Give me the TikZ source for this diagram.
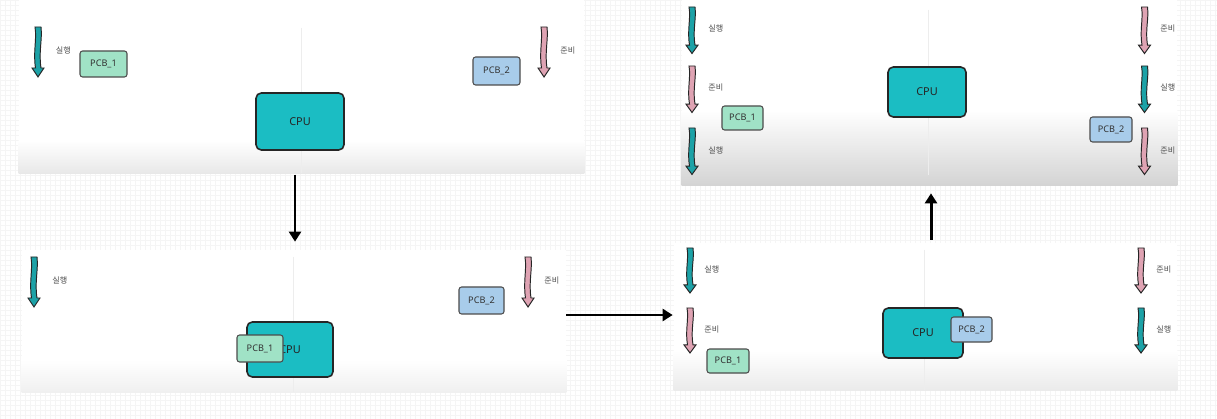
\documentclass[tikz,border=0pt]{standalone}
\usepackage{fontspec}
\setmainfont{Noto Sans}
\newfontfamily\kr{Noto Sans CJK KR}
\usetikzlibrary{arrows.meta}
\definecolor{cpucol}{HTML}{1BBDC3}
\definecolor{pcbone}{HTML}{A0E2C6}
\definecolor{pcbtwo}{HTML}{A8CCEA}
\definecolor{runcol}{HTML}{1CA2A7}
\definecolor{readycol}{HTML}{DFA3B3}

\tikzset{
  panel/.style={fill=white, draw=none, inner sep=0pt},
  cpubox/.style={draw=black!85, line width=0.9pt, fill=cpucol, rounded corners=3pt,
    inner sep=0pt, font=\fontsize{6.2}{7}\selectfont\bfseries, text=black!85},
  pcbbox/.style={draw=black!70, line width=0.6pt, fill=#1, rounded corners=1.5pt,
    inner sep=0pt, font=\fontsize{5.2}{6}\selectfont, text=black!80},
  statelabel/.style={anchor=west, inner sep=0pt, font=\kr\fontsize{4.6}{5}\selectfont, text=black!70},
  midline/.style={draw=black!7, line width=0.4pt},
  bigarrow/.style={-{Triangle[length=0.2cm,width=0.24cm]}, line width=1.7pt, black},
  pics/statearrow/.style={code={
    \filldraw[draw=black!85, fill=#1, line width=0.55pt]
      (-0.06,0) .. controls (-0.02,-0.25) and (-0.1,-0.5) .. (-0.05,-0.82)
      -- (-0.12,-0.82) -- (0,-1) -- (0.12,-0.82) -- (0.06,-0.82)
      .. controls (0.01,-0.5) and (0.09,-0.25) .. (0.06,0) -- cycle;
  }}
}

\begin{document}
\begin{tikzpicture}
\useasboundingbox (0,0) rectangle (24.34,-8.38);
\fill[white] (0,0) rectangle (24.34,-8.38);
\draw[black!4, line width=0.2pt, step=0.1] (0,-8.38) grid (24.34,0);

% panels
\node[panel, minimum width=11.3cm, minimum height=3.46cm] (p1) at (6.03,-1.73) {};
\node[panel, minimum width=10.88cm, minimum height=2.84cm] (p2) at (5.88,-6.42) {};
\node[panel, minimum width=10.06cm, minimum height=2.94cm] (p3) at (18.51,-6.33) {};
\node[panel, minimum width=9.9cm, minimum height=3.7cm] (p4) at (18.59,-1.85) {};

\shade[top color=white, bottom color=black!9] ([yshift=0.66cm]p1.south west) rectangle (p1.south east);
\shade[top color=white, bottom color=black!6] ([yshift=0.65cm]p2.south west) rectangle (p2.south east);
\shade[top color=white, bottom color=black!8] ([yshift=0.8cm]p3.south west) rectangle (p3.south east);
\shade[top color=white, bottom color=black!17] ([yshift=1.5cm]p4.south west) rectangle (p4.south east);

\draw[midline] ([yshift=-0.56cm]p1.north) -- (p1.south);
\draw[midline] ([xshift=-0.02cm,yshift=-0.14cm]p2.north) -- ([xshift=-0.02cm]p2.south);
\draw[midline] ([xshift=-0.03cm,yshift=-0.14cm]p3.north) -- ([xshift=-0.03cm]p3.south);
\draw[midline] ([xshift=-0.03cm,yshift=-0.2cm]p4.north) -- ([xshift=-0.03cm,yshift=0.2cm]p4.south);

% panel 1
\pic at (0.76,-0.54) {statearrow=runcol};
\node[statelabel] (s1a) at (1.11,-1.0) {실행};
\pic at (10.88,-0.54) {statearrow=readycol};
\node[statelabel] (s1b) at (11.2,-1.0) {준비};
\node[cpubox, minimum width=1.76cm, minimum height=1.14cm] (cpu1) at (6.0,-2.43) {CPU};
\node[pcbbox=pcbone, minimum width=0.94cm, minimum height=0.52cm] (pcba1) at (2.07,-1.28) {PCB\_1};
\node[pcbbox=pcbtwo, minimum width=0.94cm, minimum height=0.56cm] (pcbb1) at (9.93,-1.42) {PCB\_2};

% panel 2
\pic at (0.68,-5.14) {statearrow=runcol};
\node[statelabel] (s2a) at (1.04,-5.6) {실행};
\pic at (10.56,-5.14) {statearrow=readycol};
\node[statelabel] (s2b) at (10.88,-5.6) {준비};
\node[cpubox, minimum width=1.72cm, minimum height=1.1cm] (cpu2) at (5.8,-6.99) {CPU};
\node[pcbbox=pcbone, minimum width=0.92cm, minimum height=0.54cm] (pcba2) at (5.2,-6.97) {PCB\_1};
\node[pcbbox=pcbtwo, minimum width=0.9cm, minimum height=0.54cm] (pcbb2) at (9.63,-6.01) {PCB\_2};

% panel 3
\pic[yscale=0.9] at (13.8,-4.96) {statearrow=runcol};
\node[statelabel] (s3a) at (14.08,-5.38) {실행};
\pic[yscale=0.9] at (13.8,-6.16) {statearrow=readycol};
\node[statelabel] (s3b) at (14.08,-6.58) {준비};
\pic[yscale=0.9] at (22.82,-4.96) {statearrow=readycol};
\node[statelabel] (s3c) at (23.12,-5.38) {준비};
\pic[yscale=0.9] at (22.82,-6.16) {statearrow=runcol};
\node[statelabel] (s3d) at (23.12,-6.58) {실행};
\node[cpubox, minimum width=1.6cm, minimum height=1.0cm] (cpu3) at (18.46,-6.66) {CPU};
\node[pcbbox=pcbone, minimum width=0.84cm, minimum height=0.48cm] (pcba3) at (14.56,-7.22) {PCB\_1};
\node[pcbbox=pcbtwo, minimum width=0.82cm, minimum height=0.5cm] (pcbb3) at (19.43,-6.59) {PCB\_2};

% panel 4
\pic[yscale=0.93] at (13.84,-0.14) {statearrow=runcol};
\node[statelabel] (s4a) at (14.16,-0.56) {실행};
\pic[yscale=0.93] at (13.84,-1.32) {statearrow=readycol};
\node[statelabel] (s4b) at (14.16,-1.74) {준비};
\pic[yscale=0.93] at (13.84,-2.56) {statearrow=runcol};
\node[statelabel] (s4c) at (14.16,-3.0) {실행};
\pic[yscale=0.93] at (22.89,-0.14) {statearrow=readycol};
\node[statelabel] (s4d) at (23.2,-0.56) {준비};
\pic[yscale=0.93] at (22.89,-1.32) {statearrow=runcol};
\node[statelabel] (s4e) at (23.2,-1.74) {실행};
\pic[yscale=0.93] at (22.89,-2.56) {statearrow=readycol};
\node[statelabel] (s4f) at (23.2,-3.0) {준비};
\node[cpubox, minimum width=1.56cm, minimum height=1.0cm] (cpu4) at (18.54,-1.84) {CPU};
\node[pcbbox=pcbone, minimum width=0.82cm, minimum height=0.48cm] (pcba4) at (14.85,-2.36) {PCB\_1};
\node[pcbbox=pcbtwo, minimum width=0.84cm, minimum height=0.5cm] (pcbb4) at (22.22,-2.59) {PCB\_2};

% transitions
\draw[bigarrow, shorten >=0.16cm, shorten <=0.04cm] ([xshift=-0.13cm]p1.south) -- ([xshift=-0.13cm]p1.south |- p2.north);
\draw[bigarrow, shorten >=0.02cm] ([yshift=0.12cm]p2.east) -- ([yshift=0.12cm]p2.east -| p3.west);
\draw[bigarrow, shorten >=0.16cm, shorten <=0.06cm] ([xshift=0.11cm]p3.north) -- ([xshift=0.11cm]p3.north |- p4.south);
\end{tikzpicture}
\end{document}
